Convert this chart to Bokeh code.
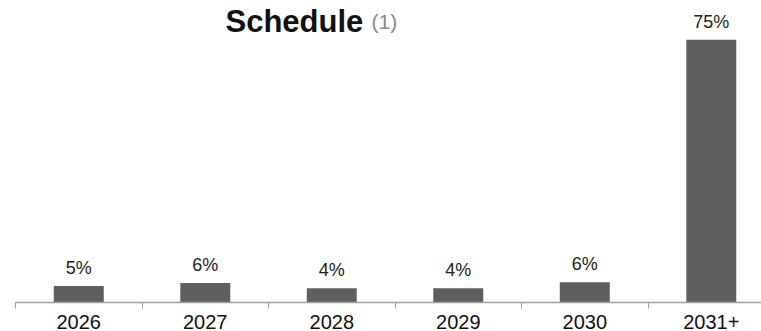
from bokeh.plotting import figure
from bokeh.models import ColumnDataSource, Range1d, FixedTicker, Label
from bokeh.embed import file_html
from bokeh.resources import INLINE
from bokeh.core.properties import value

categories = ["2026", "2027", "2028", "2029", "2030", "2031+"]
values = [4.7, 5.6, 4.1, 4.1, 5.8, 75.0]
value_labels = ["5%", "6%", "4%", "4%", "6%", "75%"]
title_text = "Schedule"
title_note = "(1)"

positions = [i + 0.5 for i in range(len(categories))]
source = ColumnDataSource(dict(x=positions, top=values, label=value_labels))

p = figure(width=761, height=342, output_backend="svg", toolbar_location=None,
           x_range=Range1d(0, 5.897), y_range=Range1d(0, 86.2),
           min_border_left=15, min_border_right=0, min_border_top=0, min_border_bottom=40,
           outline_line_color=None, background_fill_color="white", border_fill_color="white")

p.vbar(x="x", top="top", width=0.395, source=source, fill_color="#5f5f5f", line_color=None)
p.text(x="x", y="top", text="label", source=source, text_align="center", text_baseline="bottom",
       y_offset=-8, text_font=value("Liberation Sans"), text_font_size="18px", text_color="#222222")

p.add_layout(Label(x=210, y=281, x_units="screen", y_units="screen", text=title_text,
                   text_font="Liberation Sans", text_font_style="bold", text_font_size="31px",
                   text_color="#111111", text_align="left", text_baseline="alphabetic"))
p.add_layout(Label(x=356, y=281, x_units="screen", y_units="screen", text=title_note,
                   text_font="Liberation Sans", text_font_size="21px",
                   text_color="#888888", text_align="left", text_baseline="alphabetic"))

p.xgrid.visible = False
p.ygrid.visible = False
p.yaxis.visible = False

ax = p.xaxis[0]
ax.ticker = FixedTicker(ticks=positions, minor_ticks=list(range(len(categories) + 1)))
ax.major_label_overrides = {pos: c for pos, c in zip(positions, categories)}
ax.major_tick_out = 0
ax.major_tick_in = 0
ax.minor_tick_out = 6
ax.minor_tick_in = 0
ax.minor_tick_line_color = "#a0a0a0"
ax.axis_line_color = "#a0a0a0"
ax.axis_line_width = 1.5
ax.major_label_standoff = 6
ax.major_label_text_font = "Liberation Sans"
ax.major_label_text_font_size = "20px"
ax.major_label_text_color = "#111111"

open("out.html", "w").write(file_html(p, INLINE))
